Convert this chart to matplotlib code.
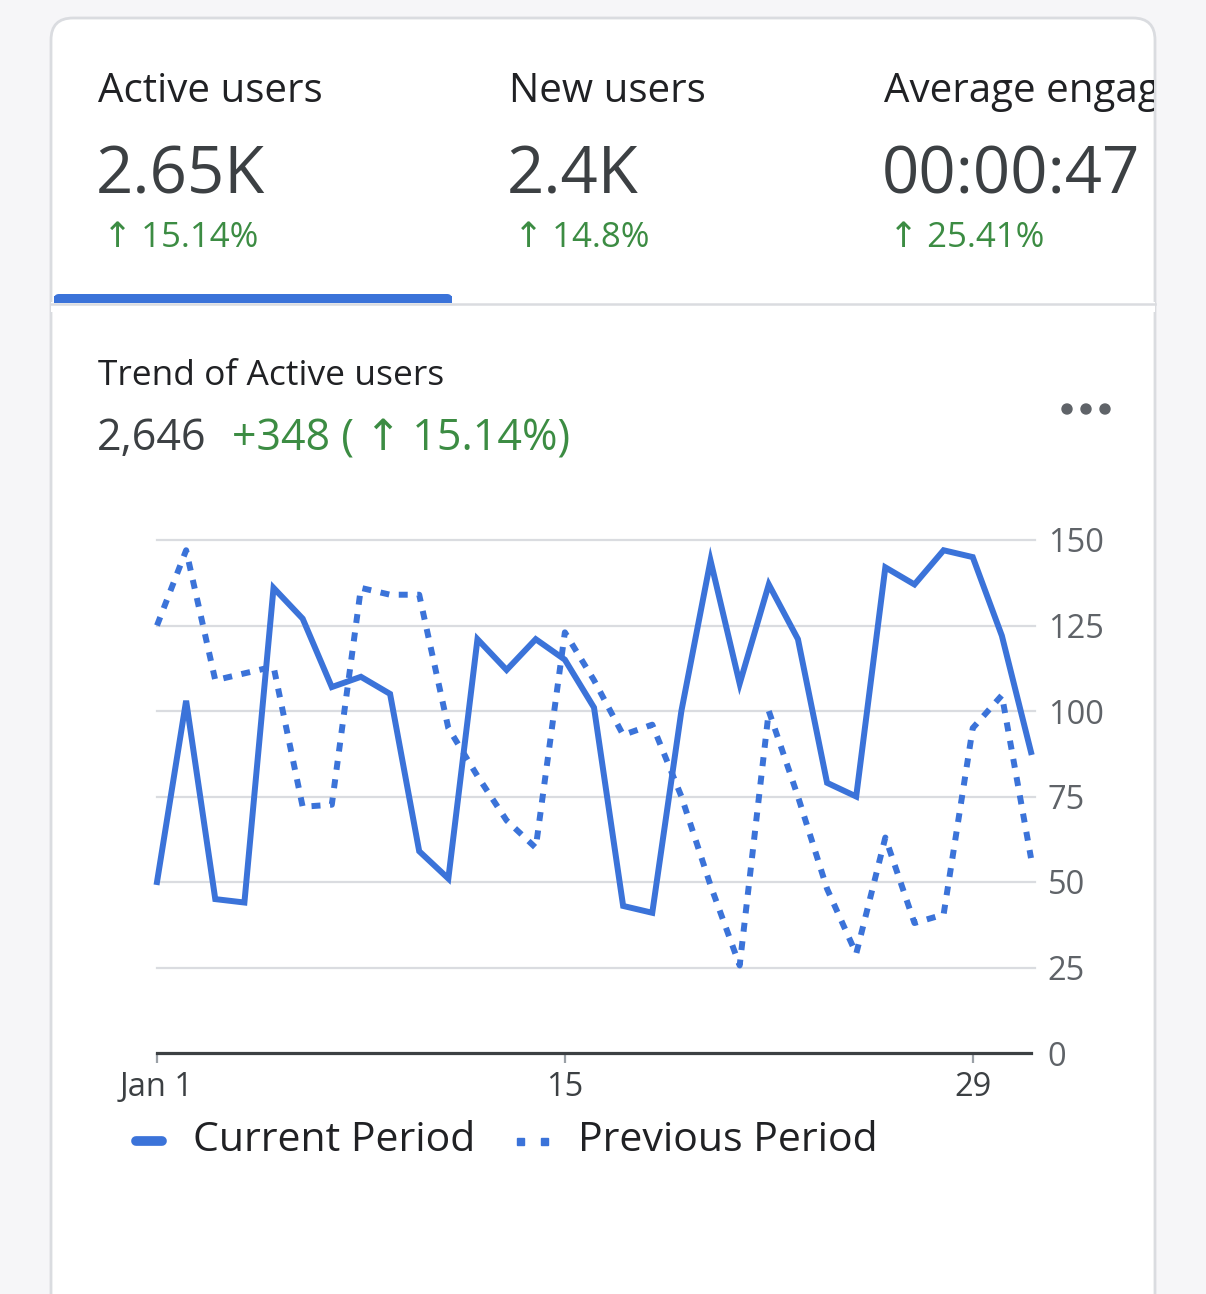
import matplotlib
matplotlib.use('Agg')
import matplotlib.pyplot as plt
from matplotlib.patches import FancyBboxPatch, Rectangle, Circle
import numpy as np

plt.rcParams['font.family'] = ['Open Sans', 'DejaVu Sans']

W, H = 1206, 1294
BLUE = '#3b73d9'
GREEN = '#3c8c43'
DARK = '#3c4043'
GREY = '#5f6368'
LINE = '#dadce0'

# data
days = list(range(1, 32))
current = [50, 103, 45, 44, 136, 127, 107, 110, 105, 59, 51, 121, 112, 121, 115, 101,
           43, 41, 100, 144, 108, 137, 121, 79, 75, 142, 137, 147, 145, 122, 88]
previous = [125, 147, 109, 111, 113, 72, 72.6, 136, 134, 134, 95, 81, 68, 60, 123, 109,
            93, 96, 75, 49, 25.6, 100, 75, 48, 29, 63, 38, 40.5, 95, 104.6, 57]
y_ticks = [0, 25, 50, 75, 100, 125, 150]
x_ticks = [1, 15, 29]
x_ticklabels = ['Jan 1', '15', '29']

metric_names = ['Active users', 'New users', 'Average engagement time']
metric_values = ['2.65K', '2.4K', '00:00:47']
metric_changes = ['15.14%', '14.8%', '25.41%']
metric_x = [98, 509, 884]

fig = plt.figure(figsize=(W / 100, H / 100), dpi=100)
fig.patch.set_facecolor('#f6f6f8')

# background / card layer in pixel coords
bg = fig.add_axes([0, 0, 1, 1])
bg.set_xlim(0, W)
bg.set_ylim(H, 0)
bg.axis('off')
card = FancyBboxPatch((51, 18), 1104, 1320, boxstyle='round,pad=0,rounding_size=22',
                      facecolor='white', edgecolor=LINE, linewidth=2.0)
bg.add_patch(card)
bg.add_patch(FancyBboxPatch((54, 294), 398, 14, boxstyle='round,pad=0,rounding_size=5',
                            facecolor=BLUE, edgecolor='none'))
bg.add_patch(Rectangle((51, 302), 1104, 10, facecolor='white', edgecolor='none'))
bg.plot([51, 1155], [304, 304], color=LINE, lw=1.8)
bg.add_patch(Rectangle((54, 296), 398, 7, facecolor=BLUE, edgecolor='none'))
for cx in [1067, 1086, 1105]:
    bg.add_patch(Circle((cx, 409), 5, color=GREY))

# text layer clipped to the card
tx = fig.add_axes([0, 0, 1154 / W, 1])
tx.set_xlim(0, 1154)
tx.set_ylim(H, 0)
tx.axis('off')
for name, val, chg, x in zip(metric_names, metric_values, metric_changes, metric_x):
    tx.text(x, 102, name, fontsize=29, color='#202124', va='baseline', clip_on=True)
    tx.text(x - 2, 194, val, fontsize=47, color=DARK, va='baseline', clip_on=True)
    tx.text(x + 5, 247, '\u2191 ' + chg, fontsize=25, color=GREEN, va='baseline', clip_on=True)

tx.text(98, 385, 'Trend of Active users', fontsize=25.5, color='#202124', va='baseline')
tx.text(97, 450, '2,646', fontsize=31, color=DARK, va='baseline', fontweight='medium')
tx.text(232, 450, '+348 ( \u2191 15.14%)', fontsize=31, color=GREEN, va='baseline')

# legend
bg.plot([136, 162], [1141, 1141], color=BLUE, lw=7, solid_capstyle='round')
for dx in [517, 541]:
    bg.add_patch(Rectangle((dx, 1138), 7, 7, color=BLUE))
bg.text(193, 1141, 'Current Period', fontsize=29.5, color='#202124', va='center')
bg.text(578, 1141, 'Previous Period', fontsize=29.5, color='#202124', va='center')

# chart
ax = fig.add_axes([157 / W, 1 - 1053 / H, (1031 - 157) / W, (1053 - 540) / H])
ax.set_xlim(1, 31)
ax.set_ylim(0, 150)
for v in y_ticks[1:]:
    ax.plot([1, 31.15], [v, v], color=LINE, lw=1.6, zorder=0, clip_on=False)
ax.plot(days, previous, color=BLUE, lw=4.3, linestyle=(0, (1.5, 1.6)),
        dash_capstyle='butt', clip_on=False, zorder=3)
ax.plot(days, current, color=BLUE, lw=4.3, solid_joinstyle='miter', clip_on=False, zorder=4)
for s in ['top', 'left', 'right']:
    ax.spines[s].set_visible(False)
ax.spines['bottom'].set_color(DARK)
ax.spines['bottom'].set_linewidth(2.3)
ax.yaxis.tick_right()
ax.set_yticks(y_ticks)
ax.set_yticklabels([str(v) for v in y_ticks])
ax.tick_params(axis='y', length=0, pad=12, labelsize=23.5, labelcolor=GREY)
ax.set_xticks(x_ticks)
ax.set_xticklabels(x_ticklabels)
ax.tick_params(axis='x', length=7, width=1.6, color='#9aa0a6', pad=6, labelsize=23.5,
               labelcolor=DARK)
ax.patch.set_alpha(0)

fig.savefig('out.png', dpi=100, facecolor=fig.get_facecolor())
